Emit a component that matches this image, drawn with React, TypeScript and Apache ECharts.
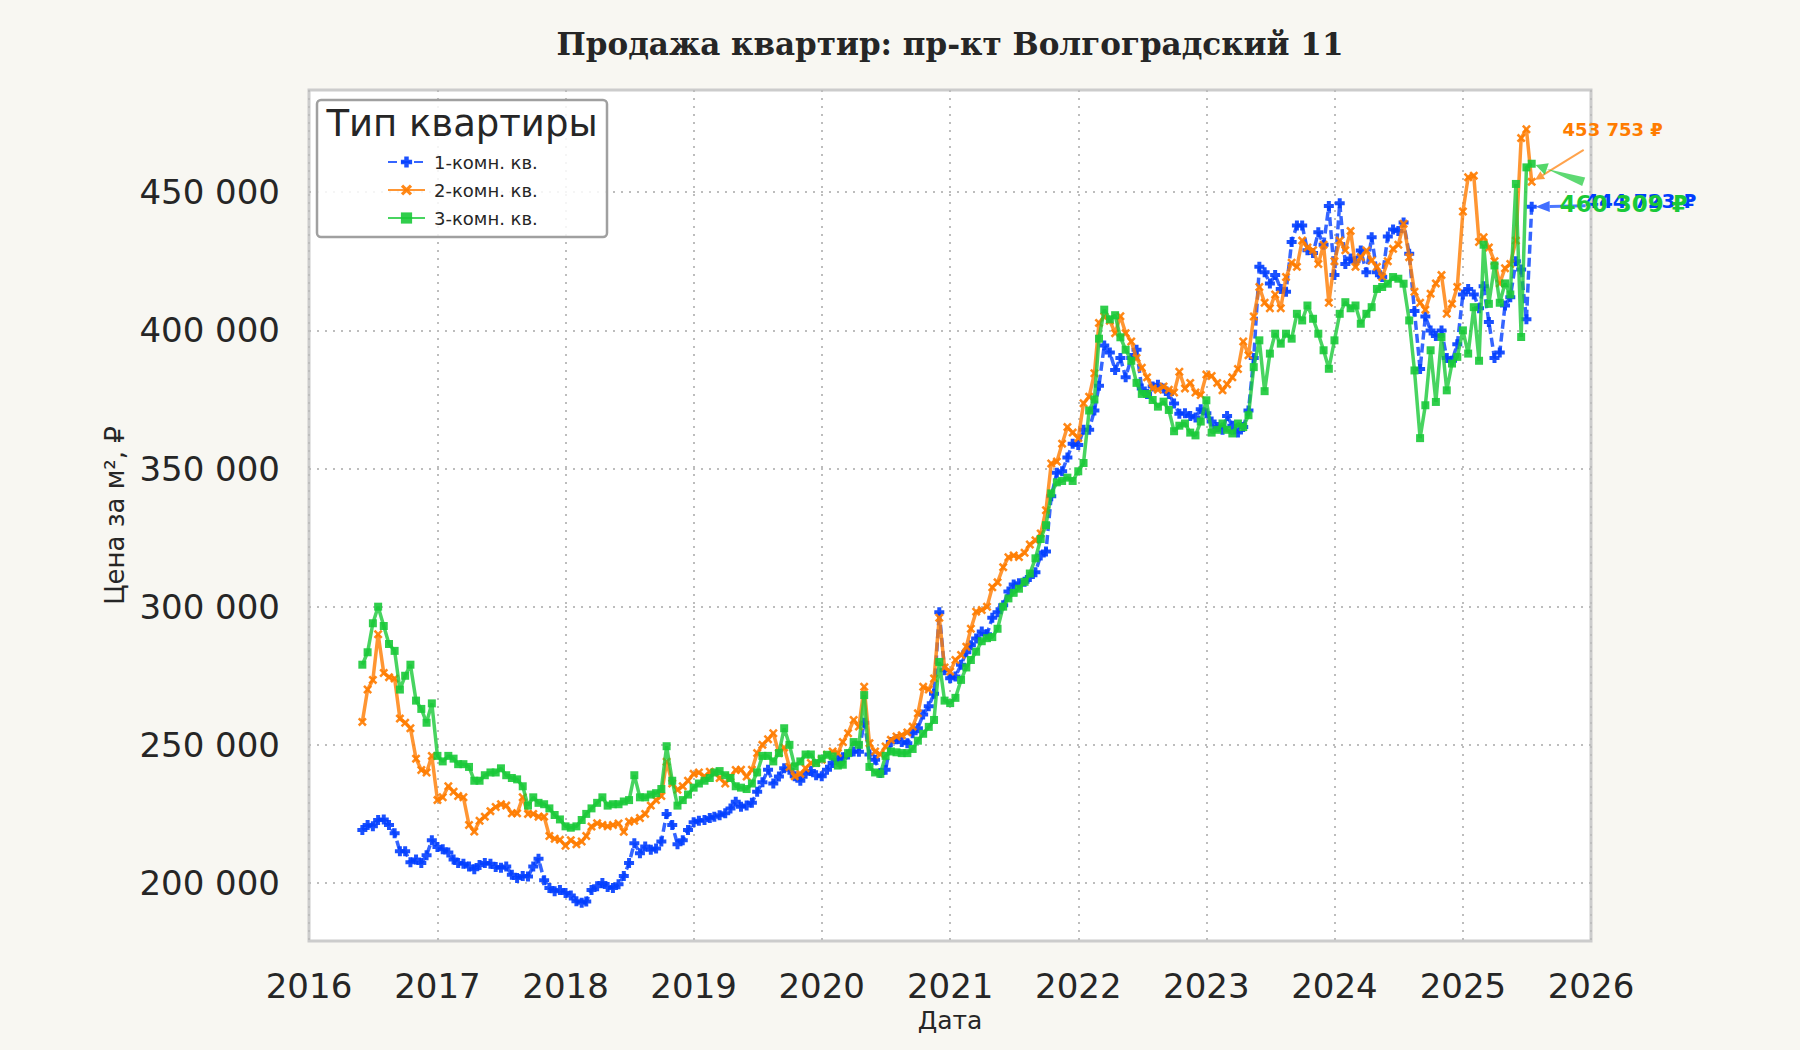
import React, { useEffect, useRef } from 'react';
import * as echarts from 'echarts';

// readings twice a month (1st and 16th), from June 2016
const FIRST_YEAR = 2016;
const FIRST_MONTH = 6;

// price per m², thousands of roubles
const oneRoom = [
  219.2, 221, 220.5, 222.8, 223, 221, 218, 211.5, 211.5, 207.5,
  208.5, 207.2, 210, 215.5, 213, 212.2, 211, 208.5, 207.2, 207,
  206, 205, 206.5, 207.2, 207, 205.8, 205.5, 206, 203, 201.8,
  202.5, 202.3, 206, 208.8, 201, 198.2, 197, 197.5, 196.4, 195.5,
  193.4, 192.8, 193.3, 197.5, 198.8, 200, 198.5, 198.2, 199.5, 202.5,
  207.2, 214.4, 210.8, 213.2, 212, 212.5, 215, 225, 221, 214,
  215.5, 219.2, 222, 222.5, 222.8, 223.5, 224, 224.5, 225.2, 227,
  229.4, 227.6, 228, 229, 233, 236.5, 241, 236, 238.5, 241.5,
  241, 238.6, 237, 239.5, 240.5, 239, 238.6, 241, 243.4, 244.6,
  245.5, 246.5, 247.6, 247.5, 258, 246.5, 244.6, 239.8, 241, 251,
  252, 251, 250.6, 254.2, 256, 261, 264, 268.5, 298, 277,
  274.1, 274.7, 279, 283.5, 286, 288.5, 291, 290, 296, 298,
  300.5, 305.5, 308, 308.5, 309, 310.7, 312.5, 318.5, 320, 340,
  348.5, 349, 354, 359, 358.5, 364, 364, 371, 380, 394.5,
  392, 385.7, 390, 383, 390, 393, 379, 377, 379.7, 380.3,
  379, 377, 373.5, 369.8, 370, 369, 368.5, 371.5, 370, 367,
  365, 364, 369, 365.5, 363, 365, 371, 390, 423, 421,
  417, 420, 415, 414, 432, 438, 438, 429, 428, 435.5,
  431, 445, 420, 446, 424, 426, 425, 428.9, 421, 433.7,
  421, 419.3, 434, 436.5, 436, 439, 427.7, 407, 386, 405,
  400, 398, 400, 390, 389, 395, 413, 415, 413, 408,
  416, 403, 390, 392, 409, 412, 425, 422, 404, 444.723,
];

const twoRoom = [
  258.3, 270, 273.5, 290, 276, 274.5, 274, 259.5, 258, 256,
  245, 240.9, 240, 246, 230, 231, 235, 233, 231.5, 231,
  221, 218.6, 222.5, 224, 226, 227.5, 228.5, 228, 225.2, 225.2,
  231, 225, 225, 224, 224, 217, 216, 215.6, 213.5, 215.5,
  214, 215, 217, 220.4, 221.6, 221, 220.5, 221, 221.5, 218.5,
  222.2, 222.5, 223.5, 225, 228, 230, 231.5, 243.9, 236, 233.7,
  235, 237, 239.5, 240, 238.5, 240.3, 240, 238, 236, 238.5,
  240.9, 241, 238.5, 241, 247, 250, 252, 254.2, 247, 249,
  242, 238.6, 239.5, 241.5, 243.4, 243.5, 244.6, 246.4, 247.6, 247,
  251, 254.2, 259, 256.6, 271, 250.6, 247.6, 246.5, 249.4, 251.8,
  253, 253.5, 254.5, 256.6, 261.4, 271, 270, 274, 296, 278,
  276.5, 280.7, 282.5, 285.5, 292, 298.2, 298.8, 300, 307, 308.8,
  314.3, 317.9, 318.5, 318, 319.5, 322.5, 324, 326.5, 334.9, 351.8,
  352.5, 359, 365, 363, 361, 373.6, 376, 384.5, 402.7, 405,
  403.5, 399, 405.1, 399, 396, 390, 386.5, 383, 379, 378.5,
  379.7, 378.5, 377.5, 385, 379, 381, 377.5, 376.6, 384, 383.5,
  381, 378.3, 380.5, 383, 386, 396, 391, 405, 415.7, 410,
  408, 413, 408, 419.3, 424.5, 423, 432.5, 430, 429, 424,
  431, 410, 425, 432.5, 429, 436, 423, 426.5, 428.9, 425.3,
  423, 419.3, 425, 429.5, 431, 438.6, 426.5, 414, 410, 407.5,
  413.3, 417, 420, 406, 409.6, 415.7, 443, 455.4, 456, 432,
  433.7, 430, 425, 417, 422.5, 424, 432.5, 469.6, 472.8, 453.753,
];

const threeRoom = [
  279, 283.5, 294, 300, 293, 286.5, 284, 270, 275, 279,
  266, 263, 258, 265, 246, 244, 246, 245, 243, 243,
  242, 237, 237, 239, 240, 240, 241.5, 239, 238, 237.5,
  235, 228, 231, 229, 228.5, 227, 224.6, 223, 220.5, 220,
  220.5, 222.8, 225, 227, 229, 231, 228, 228.5, 228.5, 229.5,
  230, 239, 231, 231, 232, 232.5, 234, 249.5, 237, 228,
  230, 232, 234.5, 236, 237, 238, 240, 240.5, 239, 238,
  235, 234.5, 234, 236, 240, 246, 246, 244, 247, 256,
  250, 242.2, 244, 246.5, 246.5, 243.4, 245, 246.4, 245.8, 242.5,
  242.8, 247, 251, 250, 268, 242, 240, 239.5, 246, 247.6,
  247.3, 247, 247, 248.5, 251.5, 254, 256.5, 259, 280, 266,
  265.1, 267, 273.5, 278, 280.7, 283.7, 287.5, 288.6, 289, 292,
  300, 303, 305, 306.5, 309, 312, 317.5, 324.5, 329.5, 341,
  345, 345.5, 346.7, 345.5, 349, 352, 371, 375, 397, 407.5,
  404, 405.5, 397.5, 393, 389, 381, 377, 377, 374.8, 372.4,
  374.2, 371.2, 363.5, 365.5, 366.3, 363, 362, 367, 374.7, 363,
  364, 366.3, 364, 362.7, 366.3, 365, 369.3, 386.7, 396.4, 378,
  391.6, 398.8, 395.2, 398.8, 397, 406, 403.6, 409, 404.2, 398.8,
  392.8, 386.1, 396.4, 406, 410.2, 408, 409, 402.4, 406, 408.4,
  415, 415.7, 416.9, 419.3, 418.7, 416.9, 403.6, 385.5, 361, 372.9,
  392.8, 374.1, 397.6, 378.3, 388, 390.4, 400, 391.6, 408.4, 389,
  431, 409.6, 423.5, 410, 417, 413, 453, 397.6, 459, 460.309,
];

const seriesNames = ['1-комн. кв.', '2-комн. кв.', '3-комн. кв.'];

const dates: string[] = oneRoom.map((_, i) => {
  const m0 = FIRST_MONTH - 1 + Math.floor(i / 2);
  const y = FIRST_YEAR + Math.floor(m0 / 12);
  const m = (m0 % 12) + 1;
  const d = i % 2 === 0 ? '01' : '16';
  return `${y}-${String(m).padStart(2, '0')}-${d}`;
});

const BLUE = '#023eff';
const ORANGE = '#ff7c00';
const GREEN = '#1ac938';
const TEXT = '#262626';
const FONT = 'DejaVu Sans';

const PLUS = 'path://M3,0H7V3H10V7H7V10H3V7H0V3H3Z';
const XMARK = 'path://M2,0L5,3L8,0L10,2L7,5L10,8L8,10L5,7L2,10L0,8L3,5L0,2Z';

const fmt = (v: number) => String(Math.round(v)).replace(/\B(?=(\d{3})+(?!\d))/g, ' ');

function arrow(sx: number, sy: number, ex: number, ey: number, color: string,
  shaft: number, headL: number, headW: number, wedge: number) {
  const dx = ex - sx, dy = ey - sy;
  const len = Math.sqrt(dx * dx + dy * dy);
  const ux = dx / len, uy = dy / len;
  const nx = -uy, ny = ux;
  const bx = ex - ux * headL, by = ey - uy * headL;
  const els: any[] = [];
  if (wedge > 0) {
    els.push({
      type: 'polygon', z: 20, silent: true,
      shape: { points: [[sx + nx * wedge / 2, sy + ny * wedge / 2], [sx - nx * wedge / 2, sy - ny * wedge / 2], [bx, by]] },
      style: { fill: color, opacity: 0.7 },
    });
  } else {
    els.push({
      type: 'line', z: 20, silent: true,
      shape: { x1: sx, y1: sy, x2: bx, y2: by },
      style: { stroke: color, lineWidth: shaft, opacity: 0.7 },
    });
  }
  els.push({
    type: 'polygon', z: 20, silent: true,
    shape: { points: [[ex, ey], [bx + nx * headW / 2, by + ny * headW / 2], [bx - nx * headW / 2, by - ny * headW / 2]] },
    style: { fill: color, opacity: 0.75 },
  });
  return els;
}

const App: React.FC = () => {
  const chartRef = useRef<HTMLDivElement>(null);

  useEffect(() => {
    if (!chartRef.current) return;
    const chart = echarts.init(chartRef.current, null, { renderer: 'svg' });

    const staticGraphic: any[] = [
      {
        type: 'text', x: 950, y: 44, z: 20,
        style: { text: 'Продажа квартир: пр-кт Волгоградский 11', fontFamily: 'DejaVu Serif', fontWeight: 'bold', fontSize: 31, fill: TEXT, align: 'center', verticalAlign: 'middle' },
      },
      {
        type: 'rect', z: 3, silent: true,
        shape: { x: 317, y: 100, width: 290, height: 137, r: 4 },
        style: { fill: 'rgba(255,255,255,0.85)', stroke: '#a0a0a0', lineWidth: 2.5 },
      },
      {
        type: 'text', x: 462, y: 123, z: 20,
        style: { text: 'Тип квартиры', fontFamily: FONT, fontSize: 37, fill: TEXT, align: 'center', verticalAlign: 'middle' },
      },
    ];

    const lineSeries = (name: string, vals: number[], color: string, symbol: string, size: number, dash: any, z: number) => ({
      name,
      type: 'line',
      data: dates.map((d, i) => [d, vals[i] * 1000]),
      symbol,
      symbolSize: size,
      showSymbol: true,
      z,
      emphasis: { disabled: true },
      lineStyle: { color, width: 3.5, type: dash, opacity: 0.8 },
      itemStyle: { color, opacity: 0.9 },
    });

    const option: any = {
      animation: false,
      backgroundColor: '#f8f7f2',
      textStyle: { fontFamily: FONT },
      grid: {
        left: 309, right: 209, top: 90, bottom: 109,
        show: true, backgroundColor: '#ffffff', borderColor: '#cccccc', borderWidth: 3,
      },
      legend: {
        orient: 'vertical', left: 382, top: 148, z: 10,
        itemWidth: 37, itemHeight: 14, itemGap: 10,
        textStyle: { fontSize: 18, fontFamily: FONT, color: TEXT, lineHeight: 14, padding: [0, 0, 0, 4] },
        data: seriesNames,
      },
      xAxis: {
        type: 'time',
        min: '2016-01-01',
        max: '2026-01-01',
        splitNumber: 10,
        name: 'Дата',
        nameLocation: 'middle',
        nameGap: 66,
        nameTextStyle: { fontSize: 25, fontFamily: FONT, color: TEXT },
        axisLine: { show: false },
        axisTick: { show: false },
        axisLabel: { formatter: '{yyyy}', fontSize: 34, color: TEXT, margin: 28, showMinLabel: true, showMaxLabel: true },
        splitLine: { show: true, lineStyle: { color: '#bdbdbd', width: 2, type: [2, 6] } },
      },
      yAxis: {
        type: 'value',
        min: 179000,
        max: 487000,
        splitNumber: 6,
        name: 'Цена за м², ₽',
        nameLocation: 'middle',
        nameRotate: 90,
        nameGap: 181,
        nameTextStyle: { fontSize: 26, fontFamily: FONT, color: TEXT },
        axisLine: { show: false },
        axisTick: { show: false },
        axisLabel: { formatter: (v: number) => fmt(v), fontSize: 34, color: TEXT, margin: 29, showMinLabel: false, showMaxLabel: false },
        splitLine: { show: true, showMinLine: false, showMaxLine: false, lineStyle: { color: '#bdbdbd', width: 2, type: [2, 6] } },
      },
      series: [
        lineSeries(seriesNames[0], oneRoom, BLUE, PLUS, 10, [9, 4], 2),
        lineSeries(seriesNames[1], twoRoom, ORANGE, XMARK, 9, 'solid', 3),
        lineSeries(seriesNames[2], threeRoom, GREEN, 'rect', 8, 'solid', 4),
      ],
      graphic: staticGraphic,
    };
    chart.setOption(option);

    // value labels at the last reading, offset from the point in pixels
    const last = dates.length - 1;
    const notes = [
      { vals: twoRoom, color: ORANGE, fontSize: 18, text: [81, -52], from: [52, -32], shaft: 2, headL: 9, headW: 9, wedge: 0 },
      { vals: oneRoom, color: BLUE, fontSize: 20, text: [109, -6], from: [54, -1], shaft: 3, headL: 14, headW: 11, wedge: 0 },
      { vals: threeRoom, color: GREEN, fontSize: 23, text: [92, 40], from: [52, 18], shaft: 0, headL: 12, headW: 12, wedge: 9 },
    ];
    const extra: any[] = [];
    notes.forEach((n) => {
      const v = n.vals[last] * 1000;
      const p = chart.convertToPixel({ gridIndex: 0 }, [dates[last], v]) as number[];
      const sx = p[0] + n.from[0], sy = p[1] + n.from[1];
      const dx = sx - p[0], dy = sy - p[1];
      const l = Math.sqrt(dx * dx + dy * dy);
      const ex = p[0] + (dx / l) * 4, ey = p[1] + (dy / l) * 4;
      extra.push(...arrow(sx, sy, ex, ey, n.color, n.shaft, n.headL, n.headW, n.wedge));
      extra.push({
        type: 'text', x: p[0] + n.text[0], y: p[1] + n.text[1], z: 21,
        style: { text: `${fmt(v)} ₽`, fontFamily: FONT, fontWeight: 'bold', fontSize: n.fontSize, fill: n.color, align: 'center', verticalAlign: 'middle' },
      });
    });
    chart.setOption({ graphic: [...staticGraphic, ...extra] });

    return () => { chart.dispose(); };
  }, []);

  return <div ref={chartRef} style={{ position: 'fixed', left: 0, top: 0, width: 1800, height: 1050 }} />;
};

export default App;
